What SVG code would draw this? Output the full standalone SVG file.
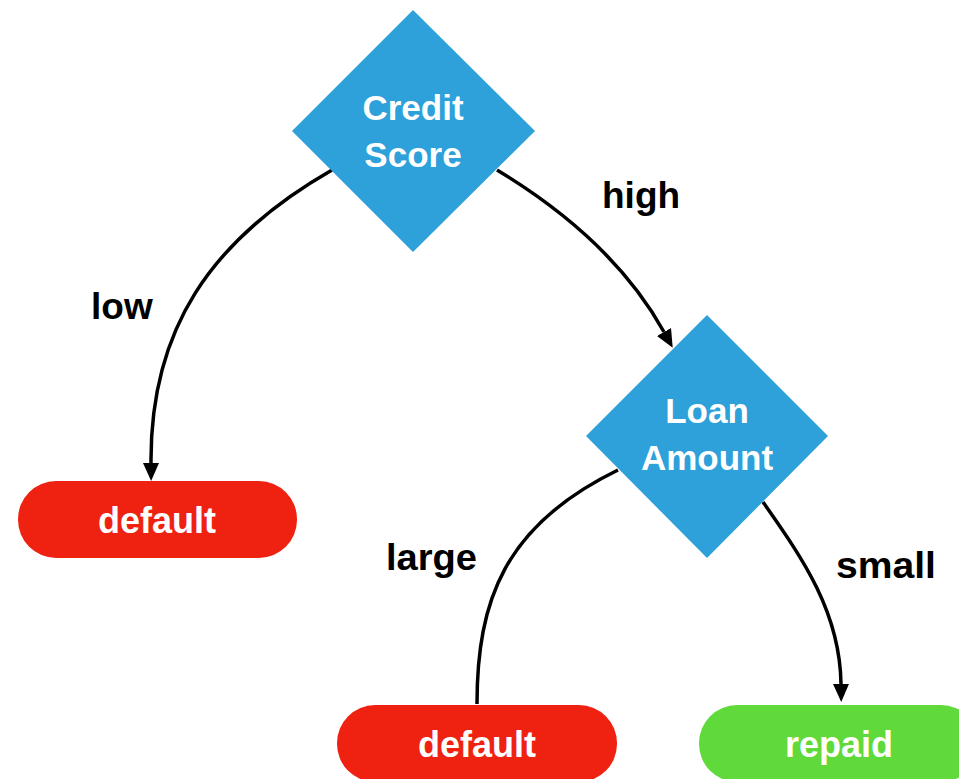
<svg xmlns="http://www.w3.org/2000/svg" width="959" height="779" viewBox="0 0 959 779">
  <style>
    .decision { fill: #2EA0DA; }
    .bad { fill: #EF2211; }
    .good { fill: #60DA3A; }
    .node-text { font-family: "Liberation Sans", Arial, sans-serif; font-weight: bold; font-size: 35px; fill: #ffffff; text-anchor: middle; }
    .pill-text { font-family: "Liberation Sans", Arial, sans-serif; font-weight: bold; font-size: 36px; fill: #ffffff; text-anchor: middle; }
    .edge { fill: none; stroke: #000000; stroke-width: 3.5; }
    .edge-label { font-family: "Liberation Sans", Arial, sans-serif; font-weight: bold; font-size: 37px; fill: #000000; }
  </style>
  <defs>
    <marker id="arrow" markerUnits="userSpaceOnUse" markerWidth="18" markerHeight="17" refX="0" refY="8.5" orient="auto" viewBox="0 0 18 17">
      <path d="M0,0.5 L18,8.5 L0,16.5 Z" fill="#000000"/>
    </marker>
  </defs>

  <rect width="959" height="779" fill="#ffffff"/>

  <!-- connectors -->
  <g id="connectors">
    <path class="edge" d="M332,170 C210,240 150,330 151,463" marker-end="url(#arrow)"/>
    <path class="edge" d="M497,170 Q613,240 664,332" marker-end="url(#arrow)"/>
    <path class="edge" d="M618,470 C505,525 477,600 477,704"/>
    <path class="edge" d="M763,502 C800,555 840,610 841,684" marker-end="url(#arrow)"/>
    <text class="edge-label" x="91" y="319">low</text>
    <text class="edge-label" x="602" y="208">high</text>
    <text class="edge-label" x="386" y="570" textLength="91" lengthAdjust="spacingAndGlyphs">large</text>
    <text class="edge-label" x="836" y="578" textLength="100" lengthAdjust="spacingAndGlyphs">small</text>
  </g>

  <!-- decision: credit score -->
  <g id="credit-score">
    <polygon class="decision" points="413,10 535,131 413,252 292,131"/>
    <text class="node-text" x="413" y="120">Credit</text>
    <text class="node-text" x="413" y="167">Score</text>
  </g>

  <!-- decision: loan amount -->
  <g id="loan-amount">
    <polygon class="decision" points="707,315 828,436 707,558 586,436"/>
    <text class="node-text" x="707" y="423">Loan</text>
    <text class="node-text" x="707" y="470">Amount</text>
  </g>

  <!-- outcomes -->
  <g id="default-low">
    <rect class="bad" x="18" y="481" width="279" height="77" rx="38" ry="38"/>
    <text class="pill-text" x="157" y="533">default</text>
  </g>

  <g id="default-large">
    <rect class="bad" x="337" y="705" width="280" height="77" rx="38" ry="38"/>
    <text class="pill-text" x="477" y="757">default</text>
  </g>

  <g id="repaid">
    <rect class="good" x="699" y="705" width="280" height="77" rx="38" ry="38"/>
    <text class="pill-text" x="839" y="757">repaid</text>
  </g>
</svg>
